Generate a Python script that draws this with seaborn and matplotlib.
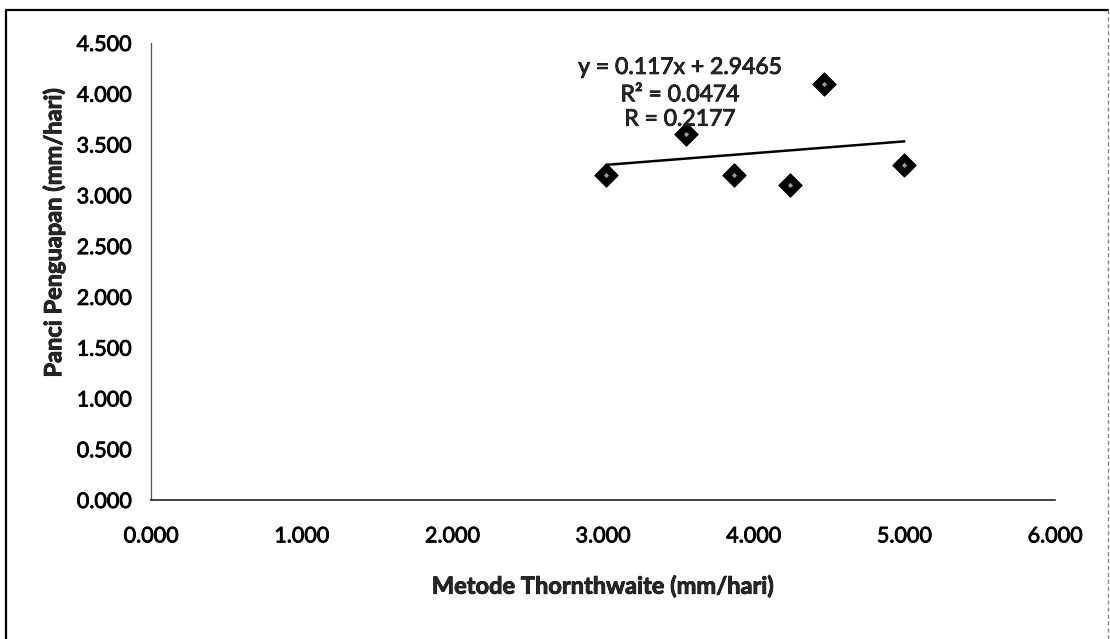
import matplotlib
matplotlib.use("Agg")
import matplotlib.pyplot as plt
import matplotlib.patheffects as pe
from matplotlib.lines import Line2D
import numpy as np
import pandas as pd
import seaborn as sns

# Daily evaporation: Thornthwaite estimate vs. evaporation pan (mm/day)
thornthwaite = [3.02, 3.55, 3.87, 4.24, 4.47, 5.00]
panci = [3.20, 3.60, 3.20, 3.10, 4.10, 3.30]

# Linear trend as reported in the annotation
slope = 0.117
intercept = 2.9465
r_squared = 0.0474
r_value = 0.2177

x_ticks = [0, 1, 2, 3, 4, 5, 6]
y_ticks = [0, 0.5, 1, 1.5, 2, 2.5, 3, 3.5, 4, 4.5]

sns.set_theme(style="white")
plt.rcParams["font.family"] = ["Lato", "DejaVu Sans"]

# slightly heavier strokes for all lettering
heavy = [pe.withStroke(linewidth=0.6, foreground="black")]

df = pd.DataFrame({"x": thornthwaite, "y": panci})

fig = plt.figure(figsize=(11.10, 6.39), dpi=100)
ax = fig.add_axes([151 / 1110, 1 - 500 / 639, (1055 - 151) / 1110, (500 - 43) / 639])

# Trend line across the observed range
xs = np.array([min(thornthwaite), max(thornthwaite)])
ax.plot(xs, slope * xs + intercept, color="black", lw=1.8, zorder=2)

sns.scatterplot(data=df, x="x", y="y", ax=ax, marker="D", s=140,
                color="black", edgecolor="black", linewidth=0.8, zorder=3)
# faint speck inside each diamond
ax.scatter(thornthwaite, panci, marker="D", s=7, color="#9a9a9a",
           linewidth=0, zorder=4)

ax.set_xlim(0, 6)
ax.set_ylim(0, 4.5)
ax.set_xticks(x_ticks)
ax.set_yticks(y_ticks)
tick_font = dict(fontsize=15.5, path_effects=heavy)
ax.set_xticklabels([f"{v:.3f}" for v in x_ticks], **tick_font)
ax.set_yticklabels([f"{v:.3f}" for v in y_ticks], **tick_font)

for side in ("top", "right"):
    ax.spines[side].set_visible(False)
ax.spines["left"].set_color("#555555")
ax.spines["left"].set_linewidth(0.9)
ax.spines["bottom"].set_color("#222222")
ax.spines["bottom"].set_linewidth(1.2)
ax.tick_params(axis="both", direction="out", length=6, width=0.9,
               color="#333333", labelcolor="black")
ax.tick_params(axis="x", pad=13)
ax.tick_params(axis="y", pad=8)

ax.set_xlabel("Metode Thornthwaite (mm/hari)", fontsize=17, fontweight="bold",
              labelpad=20, path_effects=heavy)
ax.set_ylabel("")
# y-axis title placed directly in axes coordinates
ax.text(-0.108, 0.585, "Panci Penguapan (mm/hari)", transform=ax.transAxes,
        rotation=90, ha="center", va="center", fontsize=17, fontweight="bold",
        path_effects=heavy)

# Regression annotation
ann_font = dict(ha="center", va="center", fontsize=16.5, path_effects=heavy)
ax.text(3.51, 4.26, f"y = {slope}x + {intercept}", **ann_font)
ax.text(3.51, 3.99, f"R² = {r_squared}", **ann_font)
ax.text(3.51, 3.75, f"R = {r_value}", **ann_font)

# Outer chart frame
fig.add_artist(Line2D([6 / 1110, 6 / 1110], [0, 1 - 10 / 639],
                      transform=fig.transFigure, color="black", lw=1.6))
fig.add_artist(Line2D([6 / 1110, 1108 / 1110], [1 - 10 / 639, 1 - 10 / 639],
                      transform=fig.transFigure, color="black", lw=1.6))
fig.add_artist(Line2D([1108 / 1110, 1108 / 1110], [0, 1 - 10 / 639],
                      transform=fig.transFigure, color="#888888", lw=1.0,
                      ls=(0, (3, 2))))

fig.savefig("out.png", dpi=100, facecolor="white")
